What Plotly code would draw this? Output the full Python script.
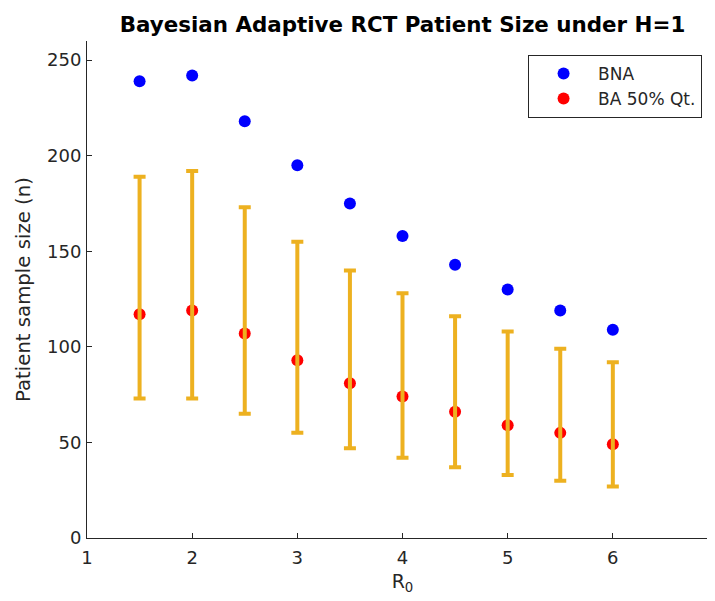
import plotly.graph_objects as go

r0 = [1.5, 2, 2.5, 3, 3.5, 4, 4.5, 5, 5.5, 6]
bna = [239, 242, 218, 195, 175, 158, 143, 130, 119, 109]
ba_median = [117, 119, 107, 93, 81, 74, 66, 59, 55, 49]
ba_upper = [189, 192, 173, 155, 140, 128, 116, 108, 99, 92]
ba_lower = [73, 73, 65, 55, 47, 42, 37, 33, 30, 27]
x_ticks = [1, 2, 3, 4, 5, 6, 7]
y_ticks = [0, 50, 100, 150, 200, 250]

err_plus = [u - m for u, m in zip(ba_upper, ba_median)]
err_minus = [m - l for m, l in zip(ba_median, ba_lower)]

FONT = "DejaVu Sans"
DARK = "#262626"

fig = go.Figure()
fig.add_trace(go.Scatter(
    x=r0, y=bna, mode="markers", name="BNA",
    marker=dict(color="#0000ff", size=12)))
fig.add_trace(go.Scatter(
    x=r0, y=ba_median, mode="markers", name="BA 50% Qt.",
    marker=dict(color="#ff0000", size=12)))
fig.add_trace(go.Scatter(
    x=r0, y=ba_median, mode="markers", showlegend=False,
    marker=dict(color="rgba(0,0,0,0)", size=1),
    error_y=dict(type="data", array=err_plus, arrayminus=err_minus,
                 color="#EDB120", thickness=4, width=6, symmetric=False)))

fig.update_layout(
    width=715, height=601,
    margin=dict(l=79, r=5, t=33, b=71, autoexpand=False),
    paper_bgcolor="white", plot_bgcolor="white",
    font=dict(family=FONT, color=DARK, size=18),
    title=dict(text="<b>Bayesian Adaptive RCT Patient Size under H=1</b>",
               x=0.5, xref="paper", xanchor="center", y=0.972, yanchor="middle",
               font=dict(family=FONT, size=21.4, color="#000000")),
    legend=dict(x=0.699, y=0.972, xanchor="left", yanchor="top",
                bgcolor="white", bordercolor=DARK, borderwidth=1,
                font=dict(family=FONT, size=17, color=DARK),
                itemwidth=59),
    showlegend=True,
)
fig.update_xaxes(
    range=[1, 7], tickvals=x_ticks, ticks="inside", ticklen=5, tickcolor=DARK,
    showline=True, linecolor=DARK, linewidth=1, showgrid=False, zeroline=False,
    automargin=False, ticklabelstandoff=3,
    tickfont=dict(size=18, color=DARK),
    title=dict(text="R<sub>0</sub>", font=dict(size=19, color=DARK), standoff=8))
fig.update_yaxes(
    range=[0, 260], tickvals=y_ticks, ticks="inside", ticklen=5, tickcolor=DARK,
    showline=True, linecolor=DARK, linewidth=1, showgrid=False, zeroline=False,
    automargin=False, ticklabelstandoff=1,
    tickfont=dict(size=18, color=DARK),
    title=dict(text="Patient sample size (n)", font=dict(size=19.7, color=DARK), standoff=11))

fig.write_html("out.html")
